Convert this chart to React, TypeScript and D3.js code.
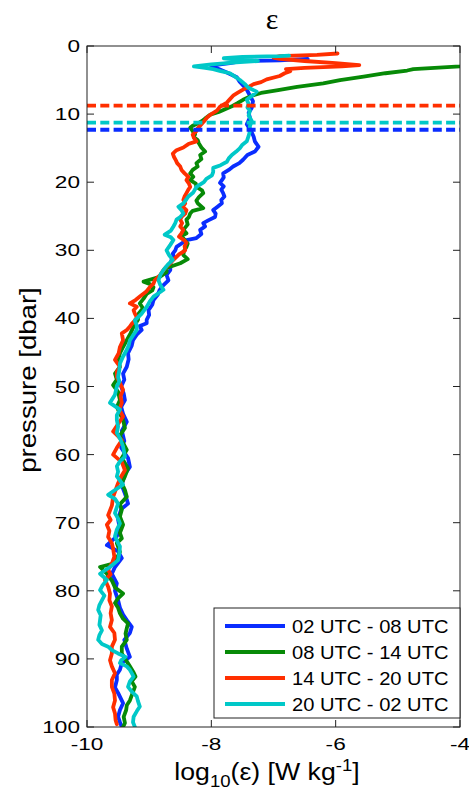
import React from 'react';
import * as d3 from 'd3';

// ---------- data ----------
const EPS_TICKS = [-10, -8, -6, -4];
const PRESSURE_TICKS = [0, 10, 20, 30, 40, 50, 60, 70, 80, 90, 100];
const SERIES_LABELS = ['02 UTC - 08 UTC', '08 UTC - 14 UTC', '14 UTC - 20 UTC', '20 UTC - 02 UTC'];
const SERIES_COLORS = ['#0a2dff', '#078a07', '#ff2f00', '#00c8c8'];
// mixed-layer depth markers (series index, pressure)
const MLD_SERIES = [2, 3, 0];
const MLD_PRESSURE = [8.75, 11.25, 12.3];

// [pressure dbar, log10(eps)]
const PROFILE_0208: [number, number][] = [
  [1.9, -6.45], [2.1, -6.9], [2.2, -7.5], [2.5, -7.7], [2.8, -7.95], [3.0, -8.0], [3.3, -7.9], [3.9, -7.75],
  [4.6, -7.59], [5.3, -7.54], [6.4, -7.43], [7.3, -7.38], [8.1, -7.33], [9.1, -7.35], [9.8, -7.40], [10.5, -7.38],
  [11.5, -7.43], [12.5, -7.36], [13.3, -7.32], [14.0, -7.30], [14.8, -7.24], [15.5, -7.30], [16.0, -7.42], [16.7, -7.49],
  [17.2, -7.55], [17.7, -7.65], [18.2, -7.72], [18.7, -7.81], [19.3, -7.80], [20.1, -7.86], [20.6, -7.80], [21.1, -7.84],
  [21.6, -7.81], [22.1, -7.79], [22.6, -7.84], [23.1, -7.83], [23.6, -7.90], [24.1, -7.97], [24.6, -7.93], [25.1, -7.94],
  [25.6, -8.05], [26.0, -8.13], [26.5, -8.10], [27.0, -8.18], [27.6, -8.16], [28.2, -8.24], [28.5, -8.40], [29.0, -8.48],
  [29.5, -8.56], [30.0, -8.58], [30.5, -8.62], [31.0, -8.60], [31.4, -8.64], [32.0, -8.66], [32.9, -8.66], [33.6, -8.72],
  [34.4, -8.69], [35.1, -8.77], [35.8, -8.83], [36.5, -8.86], [37.3, -8.93], [38.0, -8.95], [38.8, -9.01], [39.5, -9.00],
  [40.2, -9.04], [40.7, -9.04], [41.1, -9.15], [41.7, -9.12], [42.4, -9.20], [43.2, -9.26], [44.0, -9.28], [45.1, -9.34],
  [46.0, -9.33], [47.1, -9.36], [48.1, -9.42], [49, -9.40], [50, -9.45], [51, -9.41], [52, -9.39], [53, -9.45],
  [54, -9.42], [55.2, -9.36], [56.5, -9.44], [58, -9.40], [59, -9.45], [60.5, -9.34], [61.8, -9.31], [63, -9.40],
  [64.5, -9.44], [66, -9.38], [67.2, -9.34], [68, -9.45], [69.5, -9.50], [71, -9.47], [72, -9.52], [73.3, -9.68],
  [74.2, -9.50], [75.2, -9.44], [76.5, -9.55], [77.5, -9.60], [78.9, -9.52], [80, -9.55], [81.4, -9.50], [82.5, -9.47],
  [83.5, -9.42], [84.3, -9.36], [85.3, -9.28], [86.2, -9.31], [87.2, -9.40], [88.5, -9.36], [89.7, -9.31], [90.6, -9.44],
  [91.6, -9.47], [92.3, -9.52], [93.1, -9.52], [94.2, -9.55], [95, -9.50], [96.5, -9.42], [97.5, -9.47], [98.5, -9.50],
  [99.3, -9.47], [100, -9.44],
];

const PROFILE_0814: [number, number][] = [
  [2.2, -3.0], [3.0, -4.0], [3.4, -4.75], [3.6, -4.85], [4.0, -5.2], [4.5, -5.55], [5.0, -5.93], [5.5, -6.20],
  [6.0, -6.62], [6.5, -6.95], [6.9, -7.20], [7.3, -7.35], [7.9, -7.49], [8.4, -7.58], [8.9, -7.68], [9.3, -7.78],
  [9.7, -7.88], [10.1, -8.02], [10.5, -8.08], [10.9, -8.13], [11.3, -8.20], [11.7, -8.30], [12.0, -8.34], [12.5, -8.30],
  [12.9, -8.26], [13.4, -8.28], [13.8, -8.22], [14.3, -8.20], [14.9, -8.16], [15.5, -8.10], [16.0, -8.18], [16.6, -8.16],
  [17.2, -8.24], [17.7, -8.22], [18.2, -8.30], [18.7, -8.34], [19.2, -8.29], [19.7, -8.34], [20.2, -8.25], [20.7, -8.24],
  [21.2, -8.15], [21.6, -8.13], [22.2, -8.20], [22.7, -8.24], [23.1, -8.22], [23.8, -8.13], [24.2, -8.30], [24.6, -8.34],
  [25.1, -8.36], [25.5, -8.40], [26.2, -8.38], [27.0, -8.45], [27.5, -8.40], [27.9, -8.48], [28.6, -8.42], [29.0, -8.38],
  [29.5, -8.40], [30.1, -8.44], [30.7, -8.45], [31.3, -8.38], [31.9, -8.50], [32.6, -8.72], [33.2, -8.72], [33.9, -8.83],
  [34.6, -9.09], [35.0, -8.98], [35.4, -8.93], [35.9, -8.95], [36.4, -9.04], [37.1, -9.09], [37.8, -9.15], [38.5, -9.10],
  [39.3, -9.17], [40.2, -9.18], [41.2, -9.25], [42.2, -9.30], [43.2, -9.36], [44.2, -9.42], [45.1, -9.47], [46.1, -9.50],
  [47.1, -9.47], [48.1, -9.55], [49.0, -9.52], [49.8, -9.58], [50.8, -9.50], [52, -9.47], [53, -9.52], [54, -9.47],
  [54.9, -9.42], [56.1, -9.39], [57.2, -9.47], [58.3, -9.42], [59.3, -9.36], [60.5, -9.44], [62, -9.34], [63.2, -9.39],
  [64.2, -9.44], [65.2, -9.39], [66.2, -9.36], [67.3, -9.47], [68.1, -9.44], [69.1, -9.47], [70.3, -9.42], [71.5, -9.47],
  [72.3, -9.44], [73, -9.52], [74.3, -9.47], [75.2, -9.52], [76, -9.58], [76.5, -9.79], [77.5, -9.68], [78.5, -9.60],
  [79.5, -9.55], [80.4, -9.42], [81.1, -9.50], [81.8, -9.55], [82.5, -9.50], [83.3, -9.47], [84.1, -9.42], [84.8, -9.34],
  [85.5, -9.36], [86.3, -9.38], [87.2, -9.36], [88.2, -9.44], [89.2, -9.44], [90.1, -9.38], [91.1, -9.31], [92, -9.25],
  [92.6, -9.22], [93.3, -9.28], [94.1, -9.23], [95.1, -9.27], [96.1, -9.31], [96.8, -9.36], [97.5, -9.37], [98.5, -9.41],
  [99.4, -9.39], [100, -9.42],
];

const PROFILE_1420: [number, number][] = [
  [1.1, -5.97], [1.3, -6.3], [1.5, -6.9], [1.7, -7.0], [1.9, -6.9], [2.2, -6.5], [2.5, -6.0], [2.8, -5.62],
  [3.0, -5.9], [3.2, -6.5], [3.4, -6.8], [3.7, -6.73], [4.0, -6.82], [4.4, -6.90], [4.9, -7.11], [5.3, -7.20],
  [5.6, -7.32], [6.0, -7.40], [6.4, -7.49], [6.9, -7.58], [7.3, -7.65], [7.8, -7.70], [8.3, -7.75], [8.9, -7.86],
  [9.5, -7.91], [10.0, -8.00], [10.5, -8.07], [11.1, -8.12], [11.7, -8.18], [12.1, -8.22], [12.5, -8.24], [13.0, -8.30],
  [13.5, -8.28], [14.0, -8.24], [14.4, -8.37], [14.9, -8.45], [15.3, -8.56], [15.8, -8.62], [16.3, -8.60], [16.8, -8.57],
  [17.2, -8.55], [17.7, -8.50], [18.2, -8.48], [18.7, -8.43], [19.2, -8.37], [19.7, -8.40], [20.2, -8.36], [20.7, -8.34],
  [21.1, -8.37], [21.6, -8.40], [22.1, -8.43], [22.6, -8.45], [23.1, -8.42], [23.6, -8.46], [24.1, -8.40], [24.6, -8.42],
  [25.1, -8.48], [25.5, -8.50], [26.0, -8.47], [26.5, -8.50], [27.0, -8.45], [27.5, -8.48], [28.0, -8.52], [28.5, -8.44],
  [28.9, -8.40], [29.4, -8.43], [30.0, -8.42], [30.6, -8.52], [31.4, -8.61], [31.9, -8.66], [32.4, -8.72], [32.9, -8.77],
  [33.6, -8.82], [34.4, -8.91], [34.9, -8.93], [35.4, -8.99], [36.1, -9.05], [36.8, -9.15], [37.3, -9.22], [37.8, -9.31],
  [38.3, -9.20], [38.8, -9.25], [39.3, -9.23], [39.8, -9.20], [40.3, -9.23], [40.8, -9.28], [41.2, -9.31], [41.7, -9.36],
  [42.2, -9.44], [43.2, -9.42], [44.2, -9.47], [45.1, -9.49], [46.1, -9.55], [47.1, -9.47], [47.8, -9.52], [48.6, -9.52],
  [49.5, -9.47], [50.5, -9.42], [51.4, -9.46], [52.4, -9.44], [53.4, -9.48], [54.4, -9.42], [55.5, -9.50], [56.6, -9.58],
  [57.3, -9.50], [57.9, -9.44], [59, -9.52], [60, -9.58], [61.1, -9.44], [62.3, -9.39], [63.2, -9.45], [64.2, -9.50],
  [65.2, -9.54], [66.2, -9.58], [67.5, -9.60], [68.9, -9.66], [69.6, -9.62], [70.3, -9.68], [71.2, -9.64], [72.1, -9.66],
  [73.0, -9.60], [73.8, -9.58], [75.0, -9.56], [76.0, -9.60], [76.9, -9.66], [77.6, -9.62], [78.4, -9.71], [79.4, -9.66],
  [80.4, -9.63], [81.4, -9.64], [82.3, -9.60], [83.3, -9.62], [84.3, -9.60], [85.3, -9.63], [86.2, -9.56], [87.2, -9.55],
  [88.2, -9.60], [89.2, -9.60], [90.2, -9.63], [91.1, -9.60], [92.1, -9.55], [93.1, -9.60], [94.1, -9.60], [95.1, -9.56],
  [96.1, -9.55], [97.1, -9.58], [98.0, -9.55], [99.0, -9.54], [99.6, -9.52],
];

const PROFILE_2002: [number, number][] = [
  [1.4, -6.75], [1.5, -6.9], [1.6, -7.5], [1.8, -7.8], [2.0, -7.6], [2.2, -7.25], [2.4, -7.6], [2.7, -8.0],
  [3.0, -8.28], [3.2, -8.1], [3.4, -7.97], [3.7, -7.85], [4.0, -7.70], [4.5, -7.62], [5.0, -7.54], [5.6, -7.46],
  [6.1, -7.41], [6.7, -7.27], [7.2, -7.33], [7.9, -7.43], [8.5, -7.40], [9.0, -7.42], [9.5, -7.38], [10.2, -7.40],
  [11.0, -7.35], [11.8, -7.38], [12.5, -7.38], [13.2, -7.40], [14.0, -7.43], [14.5, -7.50], [15.0, -7.54], [15.5, -7.60],
  [16.0, -7.67], [16.5, -7.72], [17.0, -7.75], [17.5, -7.85], [17.9, -7.97], [18.5, -7.97], [19.0, -7.99], [19.5, -8.08],
  [20.0, -8.12], [20.7, -8.24], [21.5, -8.29], [22.1, -8.37], [22.5, -8.40], [23.1, -8.45], [23.6, -8.53], [24.1, -8.48],
  [24.6, -8.45], [25.1, -8.50], [25.5, -8.56], [26.0, -8.58], [26.5, -8.61], [27.1, -8.65], [27.7, -8.75], [28.1, -8.65],
  [28.5, -8.61], [29.2, -8.66], [30.0, -8.72], [30.7, -8.68], [31.4, -8.62], [32.1, -8.70], [32.9, -8.77], [33.6, -8.82],
  [34.4, -8.85], [35.1, -8.82], [35.8, -8.77], [36.3, -8.85], [36.8, -8.93], [37.5, -8.99], [38.3, -9.04], [39.3, -9.12],
  [40.3, -9.23], [41.0, -9.20], [41.7, -9.20], [42.5, -9.26], [43.2, -9.31], [44.0, -9.33], [44.6, -9.36], [45.6, -9.42],
  [46.6, -9.47], [47.6, -9.48], [48.6, -9.50], [49.3, -9.48], [50.0, -9.52], [51.2, -9.55], [52.4, -9.63], [53.4, -9.47],
  [54.2, -9.52], [54.9, -9.52], [55.9, -9.50], [56.8, -9.52], [57.8, -9.46], [58.8, -9.42], [60.3, -9.39], [61.0, -9.47],
  [61.7, -9.52], [62.5, -9.50], [63.2, -9.52], [64.4, -9.42], [65.2, -9.55], [65.9, -9.66], [66.5, -9.55], [67.2, -9.50],
  [68.0, -9.53], [68.6, -9.55], [69.4, -9.50], [70.1, -9.47], [71.0, -9.52], [72.0, -9.55], [73.0, -9.50], [73.5, -9.47],
  [74.5, -9.48], [75.5, -9.50], [76.5, -9.63], [77.5, -9.79], [78.4, -9.68], [79.2, -9.75], [79.9, -9.79], [80.7, -9.72],
  [81.4, -9.76], [82.1, -9.80], [82.8, -9.82], [83.6, -9.78], [84.3, -9.79], [85.0, -9.80], [85.8, -9.76], [86.5, -9.80],
  [87.2, -9.82], [87.8, -9.76], [88.2, -9.66], [88.7, -9.60], [89.2, -9.50], [89.7, -9.38], [90.2, -9.45], [90.6, -9.47],
  [91.1, -9.36], [91.6, -9.31], [92.1, -9.28], [92.6, -9.25], [93.3, -9.31], [94.1, -9.34], [94.8, -9.28], [95.5, -9.20],
  [96.2, -9.18], [97.0, -9.15], [97.7, -9.20], [98.5, -9.25], [99.3, -9.26], [100, -9.23],
];

const PROFILES = [PROFILE_0208, PROFILE_0814, PROFILE_1420, PROFILE_2002];

// ---------- layout ----------
const W = 469;
const H = 791;
const L = 87;
const R = 460;
const T = 46;
const B = 727;
const FONT = '"Liberation Sans", Arial, Helvetica, sans-serif';
const AXIS = '#222';

export default function App() {
  const x = d3.scaleLinear().domain([-10, -4]).range([L, R]);
  const y = d3.scaleLinear().domain([0, 100]).range([T, B]);
  const line = d3
    .line<[number, number]>()
    .x((d) => x(d[1]))
    .y((d) => y(d[0]));

  const tickScale = 1.33;
  const legendRowY = (i: number) => 626 + i * 26;

  return (
    <svg
      width={W}
      height={H}
      viewBox={`0 0 ${W} ${H}`}
      style={{ position: 'absolute', left: 0, top: 0, background: '#fff' }}
    >
      <defs>
        <clipPath id="plotclip">
          <rect x={L} y={T} width={R - L} height={B - T} />
        </clipPath>
      </defs>
      <rect x={0} y={0} width={W} height={H} fill="#fff" />

      {/* profiles */}
      <g clipPath="url(#plotclip)">
        {PROFILES.map((p, i) => (
          <path
            key={i}
            d={line(p) || ''}
            fill="none"
            stroke={SERIES_COLORS[i]}
            strokeWidth={3.8}
            strokeLinejoin="round"
            strokeLinecap="round"
          />
        ))}
        {MLD_PRESSURE.map((pp, i) => (
          <line
            key={i}
            x1={L}
            x2={R}
            y1={y(pp)}
            y2={y(pp)}
            stroke={SERIES_COLORS[MLD_SERIES[i]]}
            strokeWidth={3.8}
            strokeDasharray="9 4.3"
          />
        ))}
      </g>

      {/* axes box */}
      <rect x={L} y={T} width={R - L} height={B - T} fill="none" stroke={AXIS} strokeWidth={1} />

      {/* x ticks */}
      {EPS_TICKS.map((t) => (
        <g key={t}>
          <line x1={x(t)} x2={x(t)} y1={B} y2={B - 7} stroke={AXIS} />
          <line x1={x(t)} x2={x(t)} y1={T} y2={T + 7} stroke={AXIS} />
          <g transform={`translate(${x(t)},${750}) scale(${tickScale},1)`}>
            <text textAnchor="middle" fontFamily={FONT} fontSize={17} fill="#000">
              {t}
            </text>
          </g>
        </g>
      ))}

      {/* y ticks */}
      {PRESSURE_TICKS.map((t) => (
        <g key={t}>
          <line x1={L} x2={L + 7} y1={y(t)} y2={y(t)} stroke={AXIS} />
          <line x1={R} x2={R - 7} y1={y(t)} y2={y(t)} stroke={AXIS} />
          <g transform={`translate(${80},${y(t) + 6}) scale(${tickScale},1)`}>
            <text textAnchor="end" fontFamily={FONT} fontSize={17} fill="#000">
              {t}
            </text>
          </g>
        </g>
      ))}

      {/* title */}
      <text x={272} y={29} textAnchor="middle" fontFamily='"Liberation Serif", "Times New Roman", serif' fontSize={30} fill="#000">
        ε
      </text>

      {/* x label */}
      <g transform={`translate(${267},${780}) scale(1.16,1)`}>
        <text textAnchor="middle" fontFamily={FONT} fontSize={23} fill="#000">
          log
          <tspan fontSize={16} dy={7}>10</tspan>
          <tspan dy={-7}>(ε) [W kg</tspan>
          <tspan fontSize={16} dy={-9}>-1</tspan>
          <tspan dy={9}>]</tspan>
        </text>
      </g>

      {/* y label */}
      <g transform={`translate(${36},${380}) rotate(-90) scale(1.2,1)`}>
        <text textAnchor="middle" fontFamily={FONT} fontSize={23} fill="#000">
          pressure [dbar]
        </text>
      </g>

      {/* legend */}
      <rect x={214} y={608} width={R - 214} height={110} fill="#fff" stroke={AXIS} strokeWidth={1} />
      {SERIES_LABELS.map((lab, i) => (
        <g key={lab}>
          <line x1={225} x2={285} y1={legendRowY(i)} y2={legendRowY(i)} stroke={SERIES_COLORS[i]} strokeWidth={3.8} />
          <g transform={`translate(${292},${legendRowY(i) + 6.5}) scale(1.15,1)`}>
            <text fontFamily={FONT} fontSize={17.5} fill="#000">
              {lab}
            </text>
          </g>
        </g>
      ))}
    </svg>
  );
}
